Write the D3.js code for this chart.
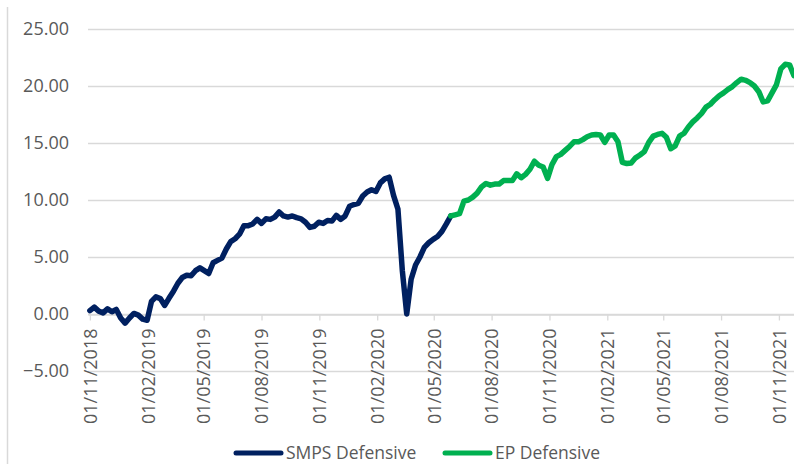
<!DOCTYPE html>
<html>
<head>
<meta charset="utf-8">
<script src="https://cdn.jsdelivr.net/npm/d3@7"></script>
<style>
  html, body { margin: 0; padding: 0; background: #fff; }
  svg { display: block; font-family: "Open Sans", sans-serif; }
</style>
</head>
<body>
<svg id="chart" width="794" height="464"></svg>
<script>
// weekly readings, first one on 01/11/2018
const startDate = new Date(2018, 10, 1);
const smpsValues = [
  0.3, 0.6, 0.25, 0.1, 0.45, 0.2, 0.4, -0.35, -0.8, -0.35,
  0.05, -0.1, -0.45, -0.55, 1.1, 1.5, 1.35, 0.75, 1.4, 2.0,
  2.7, 3.2, 3.4, 3.35, 3.8, 4.05, 3.8, 3.55, 4.5, 4.7,
  4.9, 5.7, 6.35, 6.6, 7.0, 7.75, 7.75, 7.9, 8.3, 7.95,
  8.35, 8.3, 8.5, 8.95, 8.6, 8.5, 8.6, 8.45, 8.35, 8.05,
  7.6, 7.7, 8.05, 7.95, 8.2, 8.15, 8.65, 8.3, 8.6, 9.45,
  9.6, 9.7, 10.35, 10.7, 10.9, 10.75, 11.5, 11.85, 12.0, 10.4,
  9.2, 3.8, 0.0, 3.05, 4.3, 5.0, 5.85, 6.25, 6.55, 6.8,
  7.25, 7.9, 8.6
];
// EP picks up on the last SMPS week
const epStartIndex = 82;
const epValues = [
  8.6, 8.7, 8.8, 9.9, 10.0, 10.25, 10.6, 11.15, 11.45, 11.3,
  11.4, 11.4, 11.7, 11.7, 11.7, 12.3, 11.95, 12.25, 12.7, 13.4,
  13.05, 12.9, 11.9, 13.1, 13.8, 14.0, 14.35, 14.7, 15.1, 15.1,
  15.3, 15.55, 15.7, 15.75, 15.7, 15.05, 15.7, 15.7, 15.1, 13.3,
  13.2, 13.25, 13.7, 13.95, 14.25, 15.05, 15.6, 15.75, 15.85, 15.5,
  14.5, 14.75, 15.6, 15.85, 16.4, 16.85, 17.2, 17.6, 18.15, 18.4,
  18.8, 19.15, 19.4, 19.7, 19.95, 20.3, 20.6, 20.5, 20.3, 20.0,
  19.5, 18.6, 18.7, 19.4, 20.1, 21.5, 21.9, 21.85, 20.9
];
const yTicks = [-5, 0, 5, 10, 15, 20, 25];
const xTicks = [
  "01/11/2018", "01/02/2019", "01/05/2019", "01/08/2019", "01/11/2019",
  "01/02/2020", "01/05/2020", "01/08/2020", "01/11/2020", "01/02/2021",
  "01/05/2021", "01/08/2021", "01/11/2021"
];
const seriesNames = ["SMPS Defensive", "EP Defensive"];
const seriesColors = ["#002060", "#00b050"];

const parseDate = d3.timeParse("%d/%m/%Y");
const fmtDate = d3.timeFormat("%d/%m/%Y");

const smps = smpsValues.map((v, i) => ({ date: d3.timeDay.offset(startDate, 7 * i), value: v }));
const ep = epValues.map((v, i) => ({ date: d3.timeDay.offset(startDate, 7 * (epStartIndex + i)), value: v }));

const svg = d3.select("#chart");
const plotLeft = 88, plotRight = 794, plotTop = 29, plotBottom = 371;

const x = d3.scaleTime()
  .domain([new Date(2018, 9, 29), new Date(2021, 10, 25)])
  .range([plotLeft, plotRight]);

const y = d3.scaleLinear()
  .domain([-5, 25])
  .range([plotBottom, plotTop]);

// frame edge on the left
svg.append("line")
  .attr("x1", 7.5).attr("x2", 7.5)
  .attr("y1", 7).attr("y2", 464)
  .attr("stroke", "#d9d9d9").attr("stroke-width", 1.5);

// gridlines
svg.append("g")
  .selectAll("line")
  .data(yTicks)
  .join("line")
  .attr("x1", plotLeft).attr("x2", plotRight)
  .attr("y1", d => Math.round(y(d)) + 0.5)
  .attr("y2", d => Math.round(y(d)) + 0.5)
  .attr("stroke", "#d9d9d9")
  .attr("stroke-width", 1.3);

// y axis labels
const yAxis = svg.append("g")
  .attr("transform", `translate(${plotLeft},0)`)
  .call(d3.axisLeft(y).tickValues(yTicks).tickFormat(d3.format(".2f")).tickSize(0).tickPadding(19));
yAxis.select(".domain").remove();
yAxis.selectAll("text")
  .attr("font-family", "Open Sans")
  .attr("font-size", 18)
  .attr("fill", "#595959");

// x axis crossing at zero
const xAxis = svg.append("g")
  .attr("transform", `translate(0,${Math.round(y(0)) + 0.5})`)
  .call(d3.axisBottom(x).tickValues(xTicks.map(parseDate)).tickFormat(fmtDate).tickSize(6).tickSizeOuter(0));
xAxis.select(".domain").attr("stroke", "#d9d9d9").attr("stroke-width", 1.3);
xAxis.selectAll(".tick line").attr("stroke", "#d9d9d9").attr("stroke-width", 1.3);
xAxis.selectAll("text")
  .attr("font-family", "Open Sans")
  .attr("font-size", 18)
  .attr("fill", "#595959")
  .attr("transform", "rotate(-90)")
  .attr("text-anchor", "end")
  .attr("x", -14)
  .attr("y", 0)
  .attr("dy", "0.35em");

const line = d3.line()
  .x(d => x(d.date))
  .y(d => y(d.value));

svg.append("path")
  .datum(smps)
  .attr("fill", "none")
  .attr("stroke", seriesColors[0])
  .attr("stroke-width", 5.5)
  .attr("stroke-linejoin", "round")
  .attr("stroke-linecap", "round")
  .attr("d", line);

svg.append("path")
  .datum(ep)
  .attr("fill", "none")
  .attr("stroke", seriesColors[1])
  .attr("stroke-width", 5.5)
  .attr("stroke-linejoin", "round")
  .attr("stroke-linecap", "round")
  .attr("d", line);

// legend
const legendX = [236, 445];
const legend = svg.append("g")
  .selectAll("g")
  .data(seriesNames)
  .join("g")
  .attr("transform", (d, i) => `translate(${legendX[i]},453)`);
legend.append("line")
  .attr("x1", 0).attr("x2", 45)
  .attr("stroke", (d, i) => seriesColors[i])
  .attr("stroke-width", 5)
  .attr("stroke-linecap", "round");
legend.append("text")
  .attr("x", 50)
  .attr("dy", "0.33em")
  .attr("font-size", 17.5)
  .attr("fill", "#595959")
  .text(d => d);
</script>
</body>
</html>
